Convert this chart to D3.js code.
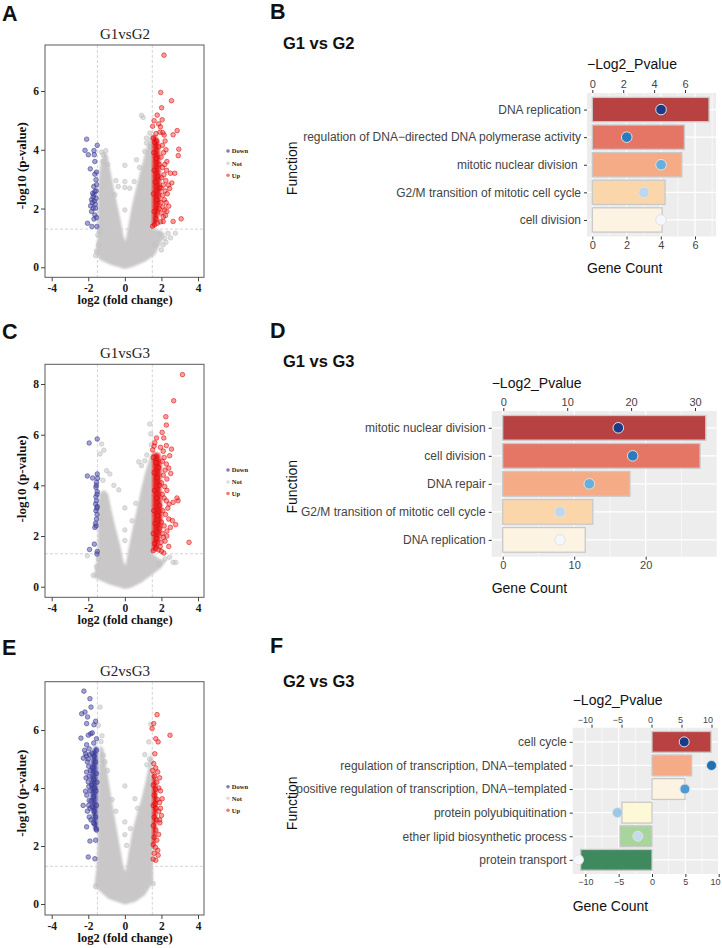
<!DOCTYPE html>
<html><head><meta charset="utf-8">
<script src="https://cdn.jsdelivr.net/npm/d3@7"></script>
<style>body{margin:0;background:#fff}</style>
</head><body>
<svg id="c" width="722" height="948" xmlns="http://www.w3.org/2000/svg"></svg>
<script>
// ---------------- DATA ----------------
const volcanoXTicks = [-4, -2, 0, 2, 4];
const legendLabels = ["Down", "Not", "Up"];

// Panel A: G1vsG2
const aCloud = [[0,-0.06],[-0.73,0.08],[-1.36,0.25],[-1.6,0.48],[-1.49,0.99],[-1.47,1.67],[-1.47,2.47],[-1.4,3.15],[-1.31,3.6],[-1.13,3.92],[-0.95,3.83],[-0.82,3.38],[-0.64,2.81],[-0.45,2.24],[-0.22,1.56],[-0.07,1.05],[0.04,0.88],[0.18,1.39],[0.4,2.13],[0.64,2.75],[0.87,3.32],[1.09,3.83],[1.31,4.34],[1.49,4.63],[1.53,1.33],[1.85,1.25],[2.2,1.15],[2.0,0.85],[1.64,0.42],[1.09,0.19],[0.45,0.02]];
const aNot = [[0.91,5.17],[1.0,5.1],[0,3.47],[0,2.92],[0,2.72],[0,1.95],[0.64,3.66],[-0.36,2.75],[-0.55,2.47],[-1.04,3.97],[-1.27,3.92],[-1.18,3.83],[1.09,3.94],[1.18,4.4],[1.36,4.57],[1.18,4.23],[0.51,2.92],[0.27,2.69],[1.91,1.16],[2.18,0.99],[2.76,1.16],[2.36,1.16],[2.09,0.76],[2.0,0.59],[1.64,0.76],[-1.45,0.76],[-1.55,0.55],[-1.36,1.22],[-0.49,2.95],[-1.2,3.6],[-0.95,3.5],[-1.6,0.4],[2.5,1.0],[1.4,4.1],[0.8,3.4],[-1.48,1.1],[2.25,0.85]];
const aDown = [[-2.09,4.36],[-2.18,3.98],[-2.0,3.83],[-1.69,3.97],[-1.51,4.15],[-1.67,3.83],[-1.64,3.6],[-1.89,3.35],[-1.55,3.24],[-1.64,3.17],[-1.58,2.98],[-1.55,2.81],[-1.64,2.58],[-1.76,2.52],[-1.69,2.47],[-1.82,2.3],[-1.67,2.26],[-1.58,2.35],[-1.87,2.09],[-1.73,2.01],[-1.6,2.01],[-1.82,1.9],[-1.64,1.78],[-1.55,1.69],[-1.69,1.64],[-2.04,1.5],[-1.8,1.39],[-1.53,1.39],[-1.73,2.4],[-1.62,2.15],[-1.78,2.2],[-1.57,2.6],[-1.7,2.75]];
const aUpCore = [[1.5,4.45],[1.68,4.5],[1.85,4.3],[1.92,3.8],[1.95,3.2],[1.98,2.6],[1.92,2.0],[1.8,1.6],[1.65,1.4],[1.5,1.38]];
const aUp = [[2.14,7.22],[1.96,5.95],[2.55,5.67],[2.01,5.43],[1.77,5.18],[2.04,5.02],[1.6,4.99],[1.52,4.8],[1.85,4.88],[1.95,4.78],[2.86,4.65],[2.64,4.51],[2.08,4.58],[2.15,4.5],[1.92,4.6],[1.7,4.55],[2.95,4.02],[2.92,3.8],[2.73,3.2],[2.5,3.2],[2.57,2.87],[2.38,2.8],[2.45,2.68],[2.4,2.08],[2.22,1.76],[2.64,1.56],[3.08,1.65],[2.1,1.56],[1.52,1.4],[1.63,1.45],[1.78,1.5],[1.95,1.55],
 [2.2,4.3],[2.05,4.15],[2.25,4.0],[2.12,3.9],[1.98,3.75],[2.3,3.6],[2.18,3.5],[2.05,3.4],[2.28,3.3],[2.14,3.15],[2.0,3.05],[2.24,2.95],[2.1,2.8],[1.98,2.7],[2.2,2.6],[2.32,2.5],[2.06,2.45],[2.16,2.3],[1.97,2.2],[2.26,2.2],[2.08,2.05],[2.18,1.95],[1.98,1.85],[2.1,1.72],[2.3,1.9],
 [1.55,4.4],[1.62,4.25],[1.75,4.3],[1.85,4.1],[1.58,3.9],[1.72,3.7],[1.88,3.5],[1.6,3.3],[1.8,3.1],[1.66,2.9],[1.9,2.7],[1.56,2.5],[1.75,2.3],[1.88,2.0],[1.6,1.9],[1.7,1.65]];

// Panel C: G1vsG3
const cCloud = [[0,-0.09],[-0.91,0.11],[-1.73,0.37],[-1.64,0.63],[-1.49,1.16],[-1.47,2.21],[-1.47,3.26],[-1.36,3.72],[-1.13,3.82],[-0.91,3.66],[-0.73,3.0],[-0.51,2.34],[-0.27,1.68],[-0.09,1.03],[0.04,0.83],[0.18,1.42],[0.4,2.21],[0.64,3.0],[0.87,3.79],[1.09,4.45],[1.31,4.97],[1.49,5.3],[1.53,1.29],[1.91,1.09],[2.27,1.03],[2.0,0.76],[1.55,0.5],[0.91,0.17],[0.36,-0.03]];
const cNot = [[-1.27,5.63],[-1.15,5.39],[-1.36,5.24],[-1.0,4.58],[-0.82,4.45],[-0.33,3.82],[0,3.11],[0,2.24],[0,1.82],[0.76,4.93],[0.91,4.78],[1.09,4.97],[1.36,6.42],[1.42,6.03],[0.6,3.29],[2.64,0.96],[2.78,0.96],[2.45,1.16],[-2.05,1.22],[-1.55,0.79],[-1.73,0.45],[1.2,5.2],[-1.2,4.2],[-0.6,4.0],[2.2,1.1],[1.9,0.9],[-1.45,1.1],[1.45,5.6],[0.4,2.6]];
const cDown = [[-1.95,5.67],[-1.51,5.83],[-2.05,4.37],[-1.76,4.29],[-1.51,4.45],[-1.49,4.28],[-1.55,4.12],[-1.58,3.92],[-1.51,3.75],[-1.58,3.55],[-1.55,3.39],[-1.6,3.26],[-1.51,3.16],[-1.58,3.0],[-1.55,2.67],[-1.6,2.5],[-1.64,2.34],[-1.52,2.85],[-1.67,1.68],[-1.93,1.47],[-1.51,1.39],[-1.53,1.29],[-1.52,3.65],[-1.56,4.0],[-1.53,3.1],[-1.57,2.4]];
const cUpCore = [[1.5,5.25],[1.7,5.3],[1.92,5.25],[2.0,4.8],[1.97,4.2],[2.0,3.5],[2.05,2.8],[1.98,2.1],[1.85,1.6],[1.65,1.4],[1.5,1.4]];
const cUp = [[3.15,8.37],[2.67,7.34],[2.24,6.71],[2.27,6.38],[2.04,6.09],[1.73,5.87],[2.13,5.87],[2.27,5.57],[2.55,5.43],[1.64,5.68],[2.45,5.17],[2.4,4.68],[2.51,4.47],[2.27,4.84],[2.85,3.5],[2.91,3.39],[2.64,3.33],[2.42,3.26],[2.27,3.39],[2.4,2.67],[2.6,2.61],[2.78,2.45],[2.49,2.34],[3.51,1.75],[2.4,1.59],[2.11,1.95],[1.93,1.58],[2.13,1.33],[1.55,1.42],[1.7,1.5],[1.85,1.45],[2.0,1.4],[1.52,5.4],[1.6,5.55],[1.95,5.5],[2.1,5.35],
 [2.15,5.1],[2.05,4.95],[2.2,4.6],[2.1,4.4],[2.3,4.25],[2.0,4.1],[2.18,3.95],[2.3,3.8],[2.05,3.65],[2.15,3.5],[2.35,3.1],[2.08,3.0],[2.22,2.85],[2.0,2.55],[2.15,2.4],[2.3,2.2],[2.05,2.1],[2.2,1.8],[1.98,1.75],[2.3,2.0],
 [1.55,5.1],[1.7,4.9],[1.85,4.7],[1.6,4.5],[1.78,4.3],[1.9,4.0],[1.62,3.8],[1.75,3.5],[1.9,3.2],[1.58,3.0],[1.8,2.8],[1.65,2.5],[1.9,2.3],[1.55,2.1],[1.75,1.9],[1.62,1.7]];

// Panel E: G2vsG3
const eCloud = [[0,-0.02],[-0.91,0.18],[-1.67,0.62],[-1.55,1.22],[-1.49,1.91],[-1.47,3.06],[-1.45,4.21],[-1.38,5.47],[-1.18,5.36],[-1.0,4.67],[-0.82,3.98],[-0.64,3.29],[-0.45,2.6],[-0.22,1.79],[-0.07,1.28],[0.04,1.1],[0.18,1.68],[0.4,2.48],[0.64,3.06],[0.91,3.63],[1.13,4.21],[1.31,4.78],[1.45,5.36],[1.53,1.56],[1.55,0.76],[1.09,0.3],[0.55,0.07]];
const eNot = [[-1.35,6.79],[-1.45,6.16],[-1.18,5.13],[-1.09,4.9],[-0.95,4.6],[0,4.07],[0,2.83],[0,2.39],[0.09,2.02],[0.55,3.63],[1.09,5.15],[1.31,5.59],[1.42,6.2],[1.45,4.92],[1.2,4.8],[-1.3,5.6],[-0.5,3.2],[-0.7,3.6],[0.7,3.3],[0.3,2.6],[-1.6,0.6],[1.55,0.7],[-1.25,5.8],[1.35,5.0]];
const eDownCore = [[-1.5,5.4],[-1.62,5.45],[-1.8,5.25],[-1.88,4.7],[-1.9,4.1],[-1.85,3.5],[-1.78,3.0],[-1.68,2.55],[-1.5,2.5]];
const eDown = [[-2.24,7.34],[-1.91,7.08],[-1.85,6.79],[-2.36,6.56],[-2.18,6.62],[-2.04,6.45],[-2.09,6.22],[-1.69,6.18],[-1.87,5.87],[-2.0,5.82],[-2.4,5.72],[-2.09,5.49],[-2.2,5.3],[-2.15,5.18],[-2.27,5.03],[-2.09,4.55],[-2.0,4.21],[-2.15,3.89],[-1.95,3.57],[-2.09,2.66],[-1.91,2.17],[-2.0,1.62],[-1.64,1.56],[-1.6,2.2],[-1.7,5.55],[-1.55,5.7],[-1.6,6.3],[-1.95,5.35],[-1.78,5.9],[-2.28,3.4],[-1.95,3.0],[-1.55,2.55],[-1.65,2.75],[-1.85,2.9],
 [-2.1,5.1],[-2.05,4.9],[-1.98,4.75],[-2.12,4.35],[-1.97,4.05],[-2.08,3.75],[-1.98,3.4],[-2.05,3.2],[-1.9,3.3],[-1.95,4.4],[-2.0,5.0],[-1.92,5.15],[-1.88,4.6],[-1.9,3.9],[-1.85,3.55],
 [-1.55,5.3],[-1.68,5.1],[-1.8,5.2],[-1.6,4.9],[-1.75,4.7],[-1.55,4.5],[-1.7,4.3],[-1.82,4.1],[-1.58,3.9],[-1.72,3.7],[-1.55,3.4],[-1.68,3.2],[-1.8,3.35],[-1.6,3.0],[-1.72,2.8],[-1.57,2.6],[-1.65,4.0],[-1.52,4.2]];
const eUpCore = [[1.5,4.5],[1.62,4.55],[1.72,4.2],[1.78,3.6],[1.75,3.0],[1.7,2.4],[1.62,2.0],[1.5,1.9]];
const eUp = [[1.76,6.53],[1.58,6.22],[1.49,6.05],[2.47,5.82],[1.69,5.7],[1.82,5.59],[1.64,5.18],[1.58,4.84],[1.69,4.69],[1.8,4.55],[1.62,4.4],[1.9,4.35],[1.75,4.2],[1.55,4.1],[1.85,4.0],[1.68,3.95],[1.95,3.9],[2.04,3.63],[1.6,3.75],[1.78,3.6],[1.9,3.5],[1.55,3.4],[1.7,3.3],[1.85,3.2],[2.0,3.05],[1.6,3.0],[1.75,2.9],[1.92,2.8],[1.55,2.7],[1.7,2.55],[1.85,2.4],[1.6,2.3],[1.75,2.2],[1.55,2.05],[1.68,1.95],[1.82,1.68],[1.69,1.51],[1.55,1.55],[1.6,1.75],[1.9,2.9],[1.95,3.3],[1.52,4.6],[1.65,3.45],[1.8,1.85]];

// Panel B: G1 vs G2
const bCats = ["DNA replication","regulation of DNA\u2212directed DNA polymerase activity","mitotic nuclear division ","G2/M transition of mitotic cell cycle","cell division"];
const bCount = [6.82, 5.38, 5.23, 4.25, 4.08];
const bLogP = [4.45, 2.23, 4.45, 3.33, 4.45];
const bCountTicks = [0, 2, 4, 6];
const bLogPTicks = [0, 2, 4, 6];

// Panel D: G1 vs G3
const dCats = ["mitotic nuclear division","cell division","DNA repair","G2/M transition of mitotic cell cycle","DNA replication"];
const dCount = [28.4, 27.6, 17.8, 12.6, 11.55];
const dLogP = [18.0, 20.25, 13.46, 8.87, 8.87];
const dCountTicks = [0, 10, 20];
const dLogPTicks = [0, 10, 20, 30];

// Panel F: G2 vs G3
const fCats = ["cell cycle","regulation of transcription, DNA\u2212templated","positive regulation of transcription, DNA\u2212templated","protein polyubiquitination","ether lipid biosynthetic process","protein transport"];
const fCount = [8.85, 5.95, 4.95, -4.5, -4.8, -10.7];
const fLogP = [5.45, 10.0, 5.57, -5.67, -2.27, -12.17];
const fCountTicks = [-10, -5, 0, 5, 10];
const fLogPTicks = [-10, -5, 0, 5, 10];

// ---------------- DRAW ----------------
const svg = d3.select("#c");
const SERIF = "'Liberation Serif','Times New Roman',serif";
const SANS = "'Liberation Sans',Arial,Helvetica,sans-serif";
const minusFmt = d => (d < 0 ? "\u2212" + Math.abs(d) : String(d));
const defs = svg.append("defs");
defs.append("filter").attr("id","blur").attr("x","-10%").attr("y","-10%").attr("width","120%").attr("height","120%")
  .append("feGaussianBlur").attr("stdDeviation", 1.1);

function letter(t, x, y){
  svg.append("text").attr("x",x).attr("y",y).text(t)
    .attr("font-family",SANS).attr("font-weight","bold").attr("font-size",21.5).attr("fill","#111");
}

function volcano(o){
  const L = 45, R = 204;
  const x = d3.scaleLinear().domain([-4, 4]).range([51.7, 198]);
  const y = d3.scaleLinear().domain([0, o.yRef]).range([o.y0, o.yRefPx]);
  const g = svg.append("g");
  const cid = "clip" + o.letter;
  defs.append("clipPath").attr("id", cid).append("rect")
    .attr("x", L).attr("y", o.top).attr("width", R - L).attr("height", o.bottom - o.top);
  const pg = g.append("g").attr("clip-path", `url(#${cid})`);
  pg.selectAll(null).data([-1.5, 1.5]).join("line")
    .attr("x1", d => x(d)).attr("x2", d => x(d)).attr("y1", o.top).attr("y2", o.bottom)
    .attr("stroke", "#d4d4d4").attr("stroke-width", 1).attr("stroke-dasharray", "3,2");
  pg.append("line").attr("x1", L).attr("x2", R).attr("y1", y(1.3)).attr("y2", y(1.3))
    .attr("stroke", "#d4d4d4").attr("stroke-width", 1).attr("stroke-dasharray", "3,2");
  const line = d3.line().x(d => x(d[0])).y(d => y(d[1])).curve(d3.curveLinearClosed);
  pg.append("path").datum(o.cloud).attr("d", line).attr("fill", "#c9c7c7").attr("filter", "url(#blur)");
  const pts = (data, fill, stroke, fo) => pg.append("g").selectAll("circle").data(data).join("circle")
    .attr("cx", d => x(d[0])).attr("cy", d => y(d[1])).attr("r", 2.3)
    .attr("fill", fill).attr("fill-opacity", fo).attr("stroke", stroke).attr("stroke-opacity", 0.75).attr("stroke-width", 0.7);
  pts(o.not, "#c4c4c4", "#bdbdbd", 0.55);
  if (o.downCore) pg.append("path").datum(o.downCore).attr("d", line).attr("fill", "#3c3c98").attr("opacity", 0.92).attr("filter", "url(#blur)");
  if (o.upCore) pg.append("path").datum(o.upCore).attr("d", line).attr("fill", "#e20a0a").attr("opacity", 0.92).attr("filter", "url(#blur)");
  pts(o.down, "#4a4aa6", "#34348e", 0.5);
  pts(o.up, "#ee2a2a", "#dd0000", 0.45);
  g.append("rect").attr("x", L).attr("y", o.top).attr("width", R - L).attr("height", o.bottom - o.top)
    .attr("fill", "none").attr("stroke", "#5a5a5a").attr("stroke-width", 1);
  const ax = g.append("g").attr("transform", `translate(0,${o.bottom})`)
    .call(d3.axisBottom(x).tickValues(volcanoXTicks).tickSize(4).tickPadding(3).tickFormat(d => String(d)));
  const ay = g.append("g").attr("transform", `translate(${L},0)`)
    .call(d3.axisLeft(y).tickValues(o.yTicks).tickSize(4).tickPadding(2).tickFormat(d => String(d)));
  [ax, ay].forEach(a => {
    a.select(".domain").remove();
    a.selectAll("line").attr("stroke", "#444");
    a.selectAll("text").attr("font-family", SERIF).attr("font-weight", "bold").attr("font-size", 11.5).attr("fill", "#1a1a1a");
  });
  ax.selectAll("text").attr("dy", null).attr("y", 15);
  g.append("text").attr("x", 125).attr("y", o.titleY).attr("text-anchor", "middle").text(o.title)
    .attr("font-family", SERIF).attr("font-size", 15).attr("fill", "#222");
  g.append("text").attr("x", 125).attr("y", o.bottom + 27).attr("text-anchor", "middle").text("log2 (fold change)")
    .attr("font-family", SERIF).attr("font-weight", "bold").attr("font-size", 12.5).attr("fill", "#111");
  g.append("text").attr("transform", `translate(26,${o.ylabY}) rotate(-90)`).attr("text-anchor", "middle").text("-log10 (p-value)")
    .attr("font-family", SERIF).attr("font-weight", "bold").attr("font-size", 13).attr("fill", "#111");
  const legCols = ["#7c7cc0", "#dcdcdc", "#f07a7a"];
  legendLabels.forEach((t, i) => {
    g.append("circle").attr("cx", 228).attr("cy", o.legY[i]).attr("r", 1.8).attr("fill", legCols[i]);
    g.append("text").attr("x", 231.8).attr("y", o.legY[i] + 2.2).text(t)
      .attr("font-family", SERIF).attr("font-weight", "bold").attr("font-size", 6.5).attr("fill", "#222");
  });
  letter(o.letter, 2, o.letterY);
}

function barPanel(o){
  const g = svg.append("g");
  const xC = d3.scaleLinear().domain([0, o.cRef]).range([o.c0, o.cRefPx]);
  const xP = d3.scaleLinear().domain([0, o.pRef]).range([o.p0, o.pRefPx]);
  const y = d3.scalePoint().domain(o.cats).range([o.top, o.bottom]).padding(0.6);
  const step = y.step();
  g.append("rect").attr("x", o.left).attr("y", o.top).attr("width", o.right - o.left).attr("height", o.bottom - o.top).attr("fill", "#ededed");
  g.selectAll(null).data(o.minor).join("line")
    .attr("x1", d => xC(d)).attr("x2", d => xC(d)).attr("y1", o.top).attr("y2", o.bottom)
    .attr("stroke", "#fff").attr("stroke-width", 0.6);
  g.selectAll(null).data(o.cTicks).join("line")
    .attr("x1", d => xC(d)).attr("x2", d => xC(d)).attr("y1", o.top).attr("y2", o.bottom)
    .attr("stroke", "#fff").attr("stroke-width", 1.2);
  g.selectAll(null).data(o.cats).join("line")
    .attr("x1", o.left).attr("x2", o.right).attr("y1", d => y(d)).attr("y2", d => y(d))
    .attr("stroke", "#fff").attr("stroke-width", 1.2);
  const rows = o.cats.map((c, i) => ({c, v: o.count[i], p: o.logp[i], bc: o.barCols[i], dc: o.dotCols[i]}));
  const bh = step * 0.88;
  g.selectAll(null).data(rows).join("rect")
    .attr("x", d => xC(Math.min(0, d.v))).attr("width", d => Math.abs(xC(d.v) - xC(0)))
    .attr("y", d => y(d.c) - bh / 2).attr("height", bh)
    .attr("fill", d => d.bc).attr("stroke", "#c9c9c9").attr("stroke-width", 1.3);
  g.selectAll(null).data(rows).join("circle")
    .attr("cx", d => xP(d.p)).attr("cy", d => y(d.c)).attr("r", o.dotR)
    .attr("fill", d => d.dc).attr("stroke", "#e2e2e2").attr("stroke-width", 1);
  const ab = g.append("g").attr("transform", `translate(0,${o.bottom})`)
    .call(d3.axisBottom(xC).tickValues(o.cTicks).tickSize(3).tickPadding(2).tickFormat(minusFmt));
  const at = g.append("g").attr("transform", `translate(0,${o.top})`)
    .call(d3.axisTop(xP).tickValues(o.pTicks).tickSize(3).tickPadding(2).tickFormat(minusFmt));
  const al = g.append("g").attr("transform", `translate(${o.left},0)`)
    .call(d3.axisLeft(y).tickSize(3).tickPadding(3));
  [ab, at, al].forEach(a => {
    a.select(".domain").remove();
    a.selectAll("line").attr("stroke", "#333").attr("stroke-width", 1);
    a.selectAll("text").attr("font-family", SANS).attr("fill", "#444");
  });
  ab.selectAll("text").attr("font-size", o.tickFs);
  at.selectAll("text").attr("font-size", o.tickFs);
  if (o.topAnchorEnd) at.selectAll("text").attr("text-anchor", "end").attr("x", 1);
  // keep edge labels inside the page
  ab.selectAll("text").each(function(){
    const bb = this.getBBox();
    const ctm = this.parentNode.getCTM();
    const right = ctm.e + bb.x + bb.width;
    if (right > 720.5) d3.select(this).attr("x", 720.5 - right);
  });
  al.selectAll("text").attr("font-size", 12).style("white-space", "pre");
  g.append("text").attr("x", o.left).attr("y", o.top - o.topLabOff).text("\u2212Log2_Pvalue")
    .attr("font-family", SANS).attr("font-size", 14).attr("fill", "#111");
  g.append("text").attr("x", o.left).attr("y", o.bottom + 36.5).text("Gene Count")
    .attr("font-family", SANS).attr("font-size", 14).attr("fill", "#111");
  g.append("text").attr("transform", `translate(296.5,${o.funcY}) rotate(-90)`).attr("text-anchor", "middle").text("Function")
    .attr("font-family", SANS).attr("font-size", 14).attr("fill", "#111");
  g.append("text").attr("x", 283).attr("y", o.titleY).text(o.title)
    .attr("font-family", SANS).attr("font-weight", "bold").attr("font-size", 16.5).attr("fill", "#111");
  letter(o.letter, 270, o.letterY);
}

volcano({letter:"A", letterY:21, title:"G1vsG2", titleY:39.3, top:45, bottom:277.3, y0:267.3, yRef:6, yRefPx:91,
  yTicks:[0,2,4,6], ylabY:165.8, legY:[151,163.3,175.3], cloud:aCloud, not:aNot, down:aDown, up:aUp, upCore:aUpCore});
volcano({letter:"C", letterY:339, title:"G1vsG3", titleY:357.7, top:364.3, bottom:597.3, y0:586.7, yRef:8, yRefPx:384,
  yTicks:[0,2,4,6,8], ylabY:479, legY:[470,482,493.5], cloud:cCloud, not:cNot, down:cDown, up:cUp, upCore:cUpCore});
volcano({letter:"E", letterY:655, title:"G2vsG3", titleY:676, top:681.7, bottom:915, y0:904, yRef:6, yRefPx:730,
  yTicks:[0,2,4,6], ylabY:793.3, legY:[786.7,798.3,810.3], cloud:eCloud, not:eNot, down:eDown, up:eUp, downCore:eDownCore, upCore:eUpCore});

const warm5 = ["#b84141", "#e57565", "#f4ab86", "#fbd6ab", "#fdf3e2"];
const blue5 = ["#1b3a8a", "#2b7bbf", "#6aaedb", "#bfd7ec", "#f4f7fb"];
barPanel({letter:"B", letterY:19.3, title:"G1 vs G2", titleY:49, cats:bCats, count:bCount, logp:bLogP,
  cTicks:bCountTicks, pTicks:bLogPTicks, minor:[1,3,5,7], barCols:warm5, dotCols:blue5,
  left:587, right:716, top:93, bottom:236.5, c0:592.3, cRef:6, cRefPx:695, p0:592.3, pRef:6, pRefPx:685,
  tickFs:11, topLabOff:23.7, funcY:168.3, dotR:5.3});
barPanel({letter:"D", letterY:338, title:"G1 vs G3", titleY:366.5, cats:dCats, count:dCount, logp:dLogP,
  cTicks:dCountTicks, pTicks:dLogPTicks, minor:[5,15,25], barCols:warm5, dotCols:blue5,
  left:491.7, right:716.7, top:411, bottom:556.7, c0:502.7, cRef:20, cRefPx:645.7, p0:503.3, pRef:30, pRefPx:695,
  tickFs:11, topLabOff:22.7, funcY:486.7, dotR:5.3});
barPanel({letter:"F", letterY:653, title:"G2 vs G3", titleY:686.5, cats:fCats, count:fCount, logp:fLogP,
  cTicks:fCountTicks, pTicks:fLogPTicks, minor:[-7.5,-2.5,2.5,7.5],
  barCols:["#b84141", "#f4ab86", "#fdf3e2", "#fdf9d6", "#a8d59b", "#3e8a5e"],
  dotCols:["#1b3a8a", "#2171b5", "#4f9bd1", "#9cc8e3", "#c6daee", "#f4f7fb"],
  left:572.7, right:719, top:727.7, bottom:874, c0:652, cRef:10, cRefPx:718.7, p0:651.5, pRef:10, pRefPx:711.5,
  tickFs:9, topLabOff:22.7, funcY:803.3, dotR:5, topAnchorEnd:true});
</script>
</body></html>
